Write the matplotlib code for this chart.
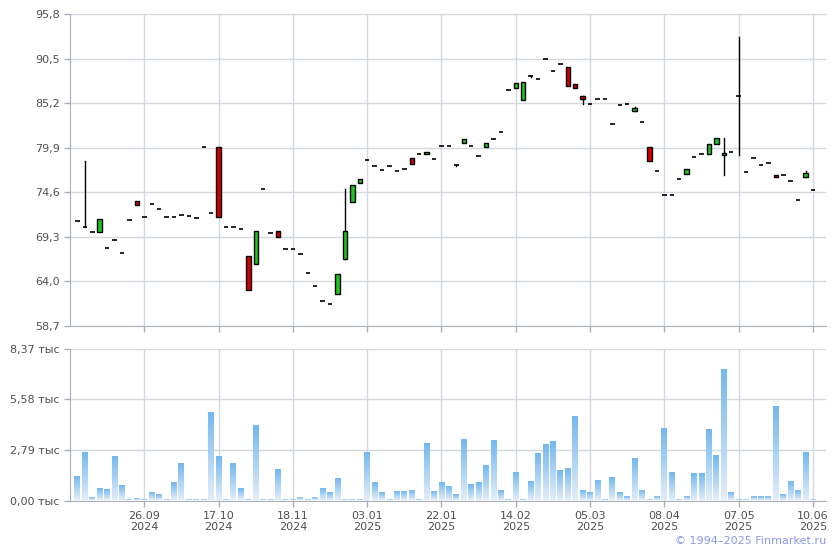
# -*- coding: utf-8 -*-

import numpy as np
import matplotlib
matplotlib.use('Agg')
import matplotlib.pyplot as plt
from matplotlib.colors import LinearSegmentedColormap


# candle data, one entry per trading session (index axis)
opens = [71.21, 70.50, 69.91, 69.91, 68.01, 68.96, 67.41, 71.33, 73.59, 71.69,
         73.23, 72.64, 71.69, 71.69, 71.85, 71.81, 71.57, 80.01, 72.17, 80.00,
         70.50, 70.50, 70.26, 67.06, 66.11, 75.02, 69.79, 70.03, 67.89, 67.89,
         67.29, 65.04, 63.49, 61.71, 61.35, 62.54, 66.70, 73.47, 75.73, 78.46,
         77.75, 77.27, 77.75, 77.16, 77.39, 78.70, 79.21, 79.18, 78.58, 80.12,
         80.14, 77.84, 80.49, 80.10, 78.95, 80.02, 80.97, 81.80, 86.79, 87.03,
         85.60, 88.45, 88.10, 90.47, 89.05, 89.88, 89.52, 87.50, 86.08, 85.13,
         85.72, 85.72, 82.75, 85.01, 85.13, 84.26, 82.99, 80.02, 77.17, 74.32,
         74.32, 76.22, 76.77, 78.83, 79.19, 79.19, 80.38, 79.07, 79.42, 86.08,
         77.05, 78.71, 77.88, 78.12, 76.69, 76.65, 75.98, 73.72, 76.45, 74.91]
closes = [71.21, 70.50, 69.91, 71.45, 68.01, 68.96, 67.41, 71.33, 73.12, 71.69,
          73.23, 72.64, 71.69, 71.69, 71.85, 71.81, 71.57, 80.01, 72.17, 71.69,
          70.50, 70.50, 70.26, 63.02, 70.03, 75.02, 69.79, 69.31, 67.89, 67.89,
          67.29, 65.04, 63.49, 61.71, 61.35, 64.92, 70.03, 75.49, 76.20, 78.46,
          77.75, 77.27, 77.75, 77.16, 77.39, 77.99, 79.21, 79.41, 78.58, 80.12,
          80.14, 77.84, 80.97, 80.10, 78.95, 80.49, 80.97, 81.80, 86.79, 87.62,
          87.74, 88.45, 88.10, 90.47, 89.05, 89.88, 87.27, 87.03, 85.72, 85.13,
          85.72, 85.72, 82.75, 85.01, 85.13, 84.65, 82.99, 78.32, 77.17, 74.32,
          74.32, 76.22, 77.40, 78.83, 79.19, 80.38, 81.09, 79.31, 79.42, 86.08,
          77.05, 78.71, 77.88, 78.12, 76.45, 76.65, 75.98, 73.72, 76.93, 74.91]
highs = [71.21, 78.34, 69.91, 71.45, 68.01, 68.96, 67.41, 71.33, 73.59, 71.69,
         73.23, 72.64, 71.69, 71.69, 71.85, 71.81, 71.57, 80.01, 72.17, 80.00,
         70.50, 70.50, 70.26, 67.06, 70.03, 75.02, 69.79, 70.03, 67.89, 67.89,
         67.29, 65.04, 63.49, 61.71, 61.35, 64.92, 75.02, 75.49, 76.20, 78.46,
         77.75, 77.27, 77.75, 77.16, 77.39, 78.70, 79.21, 79.41, 78.58, 80.12,
         80.14, 77.84, 80.97, 80.10, 78.95, 80.49, 80.97, 81.80, 86.79, 87.62,
         87.74, 88.45, 88.10, 90.47, 89.05, 89.88, 89.52, 87.50, 86.08, 85.13,
         85.72, 85.72, 82.75, 85.01, 85.13, 84.80, 82.99, 80.02, 77.17, 74.32,
         74.32, 76.22, 77.40, 78.83, 79.19, 80.38, 81.09, 81.09, 79.42, 93.09,
         77.05, 78.71, 77.88, 78.12, 76.69, 76.65, 75.98, 73.72, 77.10, 74.91]
lows = [71.21, 70.50, 69.91, 69.91, 68.01, 68.96, 67.41, 71.33, 73.12, 71.69,
        73.23, 72.64, 71.69, 71.69, 71.85, 71.81, 71.57, 80.01, 72.17, 71.69,
        70.50, 70.50, 70.26, 63.02, 66.11, 75.02, 69.79, 69.31, 67.89, 67.89,
        67.29, 65.04, 63.49, 61.71, 61.35, 62.54, 66.70, 73.47, 75.73, 78.46,
        77.75, 77.27, 77.75, 77.16, 77.39, 77.99, 79.21, 79.18, 78.58, 80.12,
        80.14, 77.70, 80.49, 80.10, 78.95, 80.02, 80.97, 81.80, 86.79, 87.03,
        85.60, 88.30, 88.10, 90.47, 89.05, 89.88, 87.27, 87.03, 85.13, 85.13,
        85.72, 85.72, 82.75, 85.01, 85.13, 84.26, 82.99, 78.32, 77.17, 74.32,
        74.32, 76.22, 76.77, 78.83, 79.19, 79.19, 80.38, 76.65, 79.42, 79.03,
        77.05, 78.71, 77.88, 78.12, 76.45, 76.65, 75.98, 73.72, 76.45, 74.91]

# volume, thousands
volumes = [1.31, 2.64, 0.15, 0.65, 0.59, 2.42, 0.81, 0.05, 0.09, 0.05,
           0.42, 0.31, 0.05, 0.98, 2.03, 0.05, 0.05, 0.05, 4.80, 2.42,
           0.05, 2.03, 0.65, 0.05, 4.08, 0.05, 0.05, 1.70, 0.05, 0.05,
           0.15, 0.05, 0.15, 0.65, 0.42, 1.20, 0.05, 0.05, 0.05, 2.59,
           0.98, 0.42, 0.05, 0.48, 0.48, 0.54, 0.05, 3.09, 0.48, 0.98,
           0.72, 0.33, 3.33, 0.83, 0.94, 1.88, 3.27, 0.50, 0.05, 1.50,
           0.05, 1.00, 2.55, 3.05, 3.22, 1.61, 1.72, 4.60, 0.50, 0.39,
           1.05, 0.05, 1.22, 0.44, 0.22, 2.27, 0.50, 0.05, 0.22, 3.94,
           1.50, 0.05, 0.17, 1.44, 1.44, 3.88, 2.44, 7.21, 0.44, 0.05,
           0.05, 0.17, 0.22, 0.22, 5.16, 0.33, 1.00, 0.50, 2.61, 0.05]

date_pos = [9, 19, 29, 39, 49, 59, 69, 79, 89, 99]
date_labels = ['26.09\n2024', '17.10\n2024', '18.11\n2024', '03.01\n2025', '22.01\n2025',
               '14.02\n2025', '05.03\n2025', '08.04\n2025', '07.05\n2025', '10.06\n2025']
price_ticks = [58.7, 64.0, 69.3, 74.6, 79.9, 85.2, 90.5, 95.8]
vol_ticks = [0.0, 2.79, 5.58, 8.37]

grid_c = '#d3d9de'
spine_c = '#a9b0b8'
text_c = '#505050'

fig = plt.figure(figsize=(8.4, 5.5), dpi=100)
ax = fig.add_axes([70 / 840, (550 - 326) / 550, 756 / 840, 312 / 550])
axv = fig.add_axes([70 / 840, (550 - 500.5) / 550, 756 / 840, 152 / 550])

xlim = (-1.0, 100.75)


def style_axes(a):
    for s in ['top', 'right']:
        a.spines[s].set_visible(False)
    for s in ['left', 'bottom']:
        a.spines[s].set_color(spine_c)
    a.set_xlim(*xlim)
    a.set_xticks(date_pos)
    a.grid(True, color=grid_c, linewidth=1)
    a.set_axisbelow(True)
    a.tick_params(colors=spine_c, labelcolor=text_c, labelsize=8, length=4, width=1)


# price candles
style_axes(ax)
ax.set_ylim(58.7, 95.8)
ax.set_yticks(price_ticks)
ax.set_yticklabels([('%.1f' % t).replace('.', ',') for t in price_ticks])
ax.set_xticklabels([])
w = 0.6
for i in range(len(opens)):
    o, c, h, l = opens[i], closes[i], highs[i], lows[i]
    if h > max(o, c) or l < min(o, c):
        ax.plot([i, i], [l, h], color='black', lw=1, zorder=3)
    if abs(c - o) < 0.05:
        ax.plot([i - w / 2, i + w / 2], [o, o], color='black', lw=1.2, zorder=4,
                solid_capstyle='butt')
    else:
        col = '#1ec41e' if c > o else '#d40000'
        ax.add_patch(plt.Rectangle((i - w / 2, min(o, c)), w, abs(c - o), facecolor=col,
                                   edgecolor='black', lw=1, zorder=4))

# volume bars with vertical gradient
style_axes(axv)
axv.set_ylim(0, 8.37)
axv.set_yticks(vol_ticks)
axv.set_yticklabels([('%.2f' % t).replace('.', ',') + ' тыс' for t in vol_ticks])
axv.set_xticklabels(date_labels, linespacing=1.15)
cmap = LinearSegmentedColormap.from_list('vol', ['#e2edf9', '#74b8ef'])
grad = np.linspace(0, 1, 64).reshape(-1, 1)
bw = 0.8
for i, v in enumerate(volumes):
    axv.imshow(grad, extent=(i - bw / 2, i + bw / 2, 0, v), origin='lower', cmap=cmap,
               aspect='auto', zorder=3, interpolation='bilinear')
axv.set_xlim(*xlim)
axv.set_ylim(0, 8.37)
axv.set_aspect('auto')

fig.text(826 / 840, 9 / 550, '© 1994–2025 Finmarket.ru', color='#8b9be0',
         fontsize=8, ha='right', va='center')

plt.savefig('out.png', dpi=100)
